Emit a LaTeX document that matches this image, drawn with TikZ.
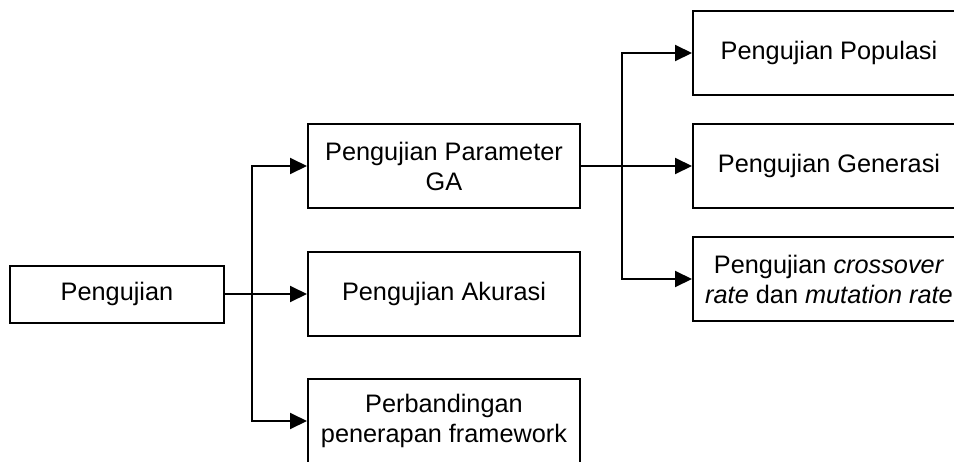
\documentclass[tikz,border=0pt]{standalone}
\usepackage{fontspec}
\setmainfont{Liberation Sans}
\usetikzlibrary{arrows.meta}
\begin{document}
\begin{tikzpicture}[x=1pt,y=-1pt,
  box/.style={draw,line width=2pt,minimum width=272pt,minimum height=84pt,align=center,inner sep=0pt,
    font=\fontsize{25.3}{30}\selectfont},
  conn/.style={line width=2pt},
  arr/.style={conn,-{Triangle[length=17pt,width=16pt]}}]
\useasboundingbox (0,0) rectangle (954,461);
\clip (0,0) rectangle (954,461);
\node[box,minimum width=214pt,minimum height=57pt] (peng) at (117,294) {Pengujian};
\node[box] (param) at (444,166) {Pengujian Parameter\\GA};
\node[box] (akur) at (444,294) {Pengujian Akurasi};
\node[box] (perb) at (444,421) {Perbandingan\\penerapan framework};
\node[box] (pop) at (829,53) {Pengujian Populasi};
\node[box] (gen) at (829,166) {Pengujian Generasi};
\node[box] (cross) at (829,279) {Pengujian \textit{crossover}\\\textit{rate} dan \textit{mutation rate}};
\coordinate (j1) at (252,294);
\coordinate (j2) at (622,166);
\draw[arr] (peng.east) -- (akur.west);
\draw[arr] (j1) |- (param.west);
\draw[arr] (j1) |- (perb.west);
\draw[conn] (param.east) -- (j2);
\draw[arr] (j2) |- (pop.west);
\draw[arr] (j2) -- (gen.west);
\draw[arr] (j2) |- (cross.west);
\end{tikzpicture}
\end{document}
